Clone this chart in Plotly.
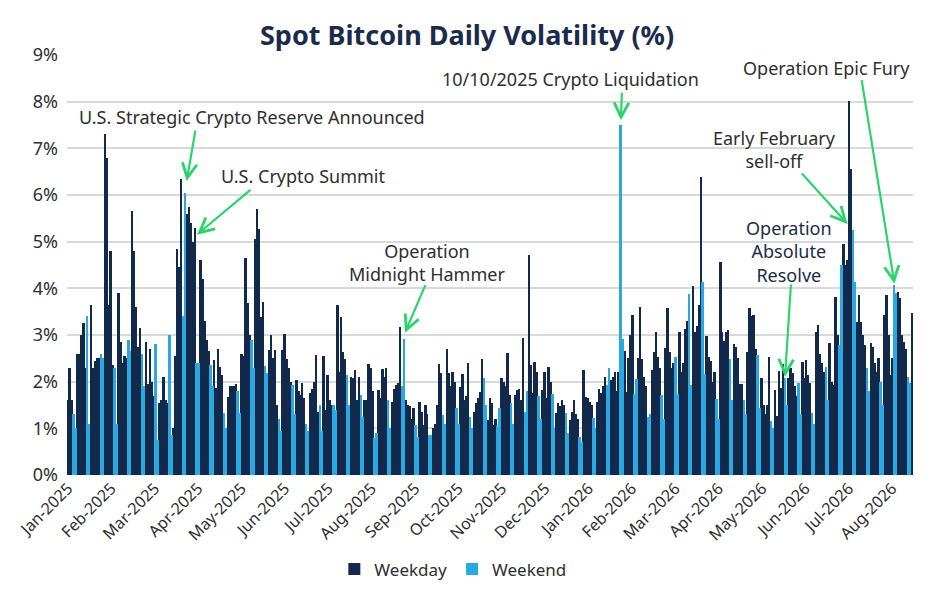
import numpy as np
import pandas as pd
import plotly.graph_objects as go


# daily spot bitcoin volatility (%), one list per month
jan_2025 = [1.6, 2.3, 1.6, 1.3, 1.0, 2.6, 2.6, 3.0, 3.25, 2.3, 3.4, 1.1, 3.65, 2.3, 2.45, 2.5,
            2.5, 2.6, 2.5, 7.3, 6.8, 3.65, 4.8, 2.35, 2.3, 1.1, 3.9, 2.85, 2.4, 2.55, 2.5]
feb_2025 = [2.9, 2.65, 5.65, 4.8, 3.6, 2.75, 3.15, 2.6, 1.9, 2.85, 1.95, 2.7, 2.0, 1.7,
            2.8, 0.75, 1.55, 1.6, 2.1, 1.6, 1.55, 3.0, 0.85, 1.0, 2.55, 4.84, 4.45, 6.35]
mar_2025 = [3.4, 6.05, 5.6, 5.75, 5.4, 5.0, 5.3, 2.4, 2.4, 4.6, 4.2, 3.3, 2.9, 2.65, 2.36, 1.9,
            2.46, 1.86, 2.71, 2.32, 2.14, 1.32, 1.0, 1.68, 1.91, 1.91, 1.91, 1.96, 1.79, 1.32, 2.59]
apr_2025 = [2.54, 4.65, 3.69, 3.0, 2.9, 2.3, 5.06, 5.71, 5.28, 3.39, 3.71, 2.33, 2.18, 2.68, 2.99,
            2.5, 2.68, 1.5, 1.2, 0.95, 2.68, 3.03, 2.49, 2.3, 2.0, 1.93, 1.3, 2.04, 1.8, 1.72]
may_2025 = [1.97, 1.64, 1.1, 0.95, 1.75, 1.85, 2.0, 2.57, 1.36, 1.5, 0.95, 2.54, 1.4, 2.14, 1.6, 1.5,
            1.5, 1.4, 3.64, 2.21, 3.39, 2.64, 2.49, 2.14, 1.5, 2.09, 2.07, 2.25, 1.61, 2.1, 1.71]
jun_2025 = [1.25, 1.6, 1.6, 2.37, 2.3, 1.8, 0.8, 0.9, 1.82, 1.64, 2.28, 2.1, 2.3, 1.6, 1.0,
            1.57, 1.85, 1.92, 1.97, 3.17, 1.9, 2.92, 1.61, 1.5, 1.47, 1.2, 1.43, 1.07, 0.82, 1.57]
jul_2025 = [1.36, 1.08, 1.5, 1.3, 0.86, 0.85, 1.0, 1.1, 1.5, 2.37, 2.18, 1.29, 1.1, 2.71, 2.18, 1.9,
            2.21, 2.0, 1.43, 1.1, 1.89, 2.16, 1.6, 1.7, 2.41, 1.25, 1.0, 1.36, 1.54, 1.64, 1.78]
aug_2025 = [2.48, 2.07, 1.5, 1.18, 1.64, 1.54, 1.07, 1.2, 1.06, 1.44, 2.07, 2.0, 1.9, 2.62, 1.71, 1.54,
            1.1, 1.71, 1.82, 1.85, 1.6, 2.94, 1.36, 1.8, 4.71, 2.36, 1.75, 2.43, 2.2, 1.69, 1.2]
sep_2025 = [1.82, 2.21, 1.64, 2.32, 2.0, 1.73, 1.0, 1.32, 1.54, 1.47, 1.6, 1.5, 1.32, 0.9, 1.18,
            1.36, 1.61, 1.3, 1.2, 0.82, 0.7, 2.26, 1.68, 1.66, 1.57, 1.5, 1.22, 1.0, 1.57, 1.85]
oct_2025 = [1.75, 1.9, 2.1, 1.93, 2.3, 2.04, 2.1, 2.2, 1.8, 2.2, 7.5, 2.92, 2.66, 1.78, 2.5, 3.0,
            3.42, 1.74, 2.05, 2.5, 3.6, 2.49, 2.1, 1.9, 1.25, 1.3, 2.26, 2.63, 3.06, 2.53, 2.3]
nov_2025 = [1.71, 1.21, 2.72, 3.57, 2.63, 2.29, 2.4, 2.53, 1.74, 3.06, 2.2, 2.4, 3.13, 3.3, 3.88,
            1.93, 4.06, 3.06, 3.2, 3.64, 6.38, 4.14, 2.17, 2.97, 2.53, 2.45, 2.0, 2.2, 1.63, 1.21]
dec_2025 = [4.56, 3.06, 2.88, 3.06, 3.1, 2.49, 1.6, 2.81, 2.75, 2.5, 1.96, 1.96, 1.6, 1.3, 2.63, 3.57,
            3.4, 3.43, 2.71, 2.57, 1.43, 2.07, 1.5, 1.3, 1.5, 2.53, 1.15, 1.0, 1.82, 1.26, 2.22]
jan_2026 = [1.86, 2.37, 2.07, 1.5, 2.07, 2.29, 2.18, 1.9, 1.7, 1.97, 1.3, 2.43, 2.07, 2.46, 2.15, 1.97,
            1.32, 1.1, 3.07, 3.21, 2.6, 2.4, 2.2, 2.32, 1.6, 2.82, 2.0, 1.93, 3.82, 3.0, 2.78]
feb_2026 = [4.49, 4.94, 4.51, 4.6, 8.02, 6.56, 5.24, 4.14, 3.28, 3.85, 3.28, 3.0, 2.78, 2.29,
            1.8, 2.82, 2.75, 2.39, 2.2, 2.5, 2.0, 1.5, 3.43, 3.85, 3.0, 2.15, 2.5, 4.07]
mar_2026 = [3.9, 3.93, 3.8, 3.0, 2.85, 2.7, 2.1, 1.98, 3.48]

# x axis labels as printed on the chart
tick_labels = ["Jan-2025", "Feb-2025", "Mar-2025", "Apr-2025", "May-2025", "Jun-2025",
               "Jul-2025", "Aug-2025", "Sep-2025", "Oct-2025", "Nov-2025", "Dec-2025",
               "Jan-2026", "Feb-2026", "Mar-2026", "Apr-2026", "May-2026", "Jun-2026",
               "Jul-2026", "Aug-2026"]

NAVY = "#13294B"
SKY = "#29A9E1"
GREEN = "#2BD46B"
TEXT = "#2E2E2E"
TITLE = "#1A2B4C"
FONT = "Noto Sans"

vol = np.array(jan_2025 + feb_2025 + mar_2025 + apr_2025 + may_2025 + jun_2025 + jul_2025
               + aug_2025 + sep_2025 + oct_2025 + nov_2025 + dec_2025
               + jan_2026 + feb_2026 + mar_2026)
dates = pd.date_range("2025-01-01", periods=len(vol), freq="D")
weekend = dates.dayofweek >= 5

DAY_MS = 86400000

data = [
    go.Bar(x=dates[~weekend], y=vol[~weekend], name="Weekday",
           marker=dict(color=NAVY, line=dict(width=0)), width=DAY_MS),
    go.Bar(x=dates[weekend], y=vol[weekend], name="Weekend",
           marker=dict(color=SKY, line=dict(width=0)), width=DAY_MS),
]

# tick spacing used by the source chart
tick_start = pd.Timestamp("2025-01-01 00:00")
tick_vals = [tick_start + pd.Timedelta(days=22.2 * k) for k in range(len(tick_labels))]

# page body adds an 8px offset, so the figure is 8px smaller than the window
layout = go.Layout(
    width=932, height=592,
    margin=dict(l=59, r=27, t=47, b=123),
    paper_bgcolor="white", plot_bgcolor="white",
    barmode="overlay", bargap=0,
    font=dict(family=FONT, color=TEXT),
    title=dict(text="<b>Spot Bitcoin Daily Volatility (%)</b>", x=0.4925, xref="container",
               y=0.954, yanchor="middle", font=dict(size=27, color=TITLE, family=FONT)),
    xaxis=dict(type="date", range=["2024-12-31 12:00", "2026-03-09 12:00"],
               tickvals=tick_vals, ticktext=tick_labels, tickangle=-45,
               tickfont=dict(size=16, color=TEXT), showgrid=False, showline=False,
               ticks="", zeroline=False, automargin=False),
    yaxis=dict(range=[0, 9], dtick=1, ticksuffix="%", tickfont=dict(size=18, color=TEXT),
               showgrid=True, gridcolor="#D9D9D9", gridwidth=1.5, zeroline=False,
               showline=False, ticks="", ticklabelstandoff=8, automargin=False),
    legend=dict(orientation="h", x=0.316, xanchor="left", y=-0.225, yanchor="middle",
                font=dict(size=17, color=TEXT), itemwidth=30),
    showlegend=True,
)

fig = go.Figure(data=data, layout=layout)

# annotation texts (paper coords)
notes = [
    ("U.S. Strategic Crypto Reserve Announced", 0.2187, 0.853, TEXT),
    ("U.S. Crypto Summit", 0.279, 0.713, TEXT),
    ("Operation<br>Midnight Hammer", 0.4255, 0.505, TEXT),
    ("10/10/2025 Crypto Liquidation", 0.5957, 0.943, TEXT),
    ("Early February<br>sell-off", 0.8357, 0.775, TEXT),
    ("Operation<br>Absolute<br>Resolve", 0.853, 0.531, TITLE),
    ("Operation Epic Fury", 0.898, 0.969, TEXT),
]
for txt, px, py, col in notes:
    fig.add_annotation(text=txt, x=px, y=py, xref="paper", yref="paper",
                       showarrow=False, xanchor="center", yanchor="middle",
                       font=dict(size=18, color=col, family=FONT))

# green arrows: head on the bar, tail under the label (pixel offsets)
arrows = [
    ("2025-03-02 18:00", 6.3, 9, -52),
    ("2025-03-08", 5.15, 55, -46),
    ("2025-06-22 12:00", 3.05, 21, -49),
    ("2025-10-11", 7.6, 1, -29),
    ("2026-02-04", 5.38, -47, -52),
    ("2026-01-03", 2.1, 6, -94),
    ("2026-02-28", 4.1, -33, -205),
]
for hx, hy, ax, ay in arrows:
    fig.add_annotation(x=hx, y=hy, xref="x", yref="y", text="", showarrow=True,
                       ax=ax, ay=ay, arrowhead=5, arrowsize=1.3, arrowwidth=2.2,
                       arrowcolor=GREEN, standoff=0)

fig.write_html("out.html")
